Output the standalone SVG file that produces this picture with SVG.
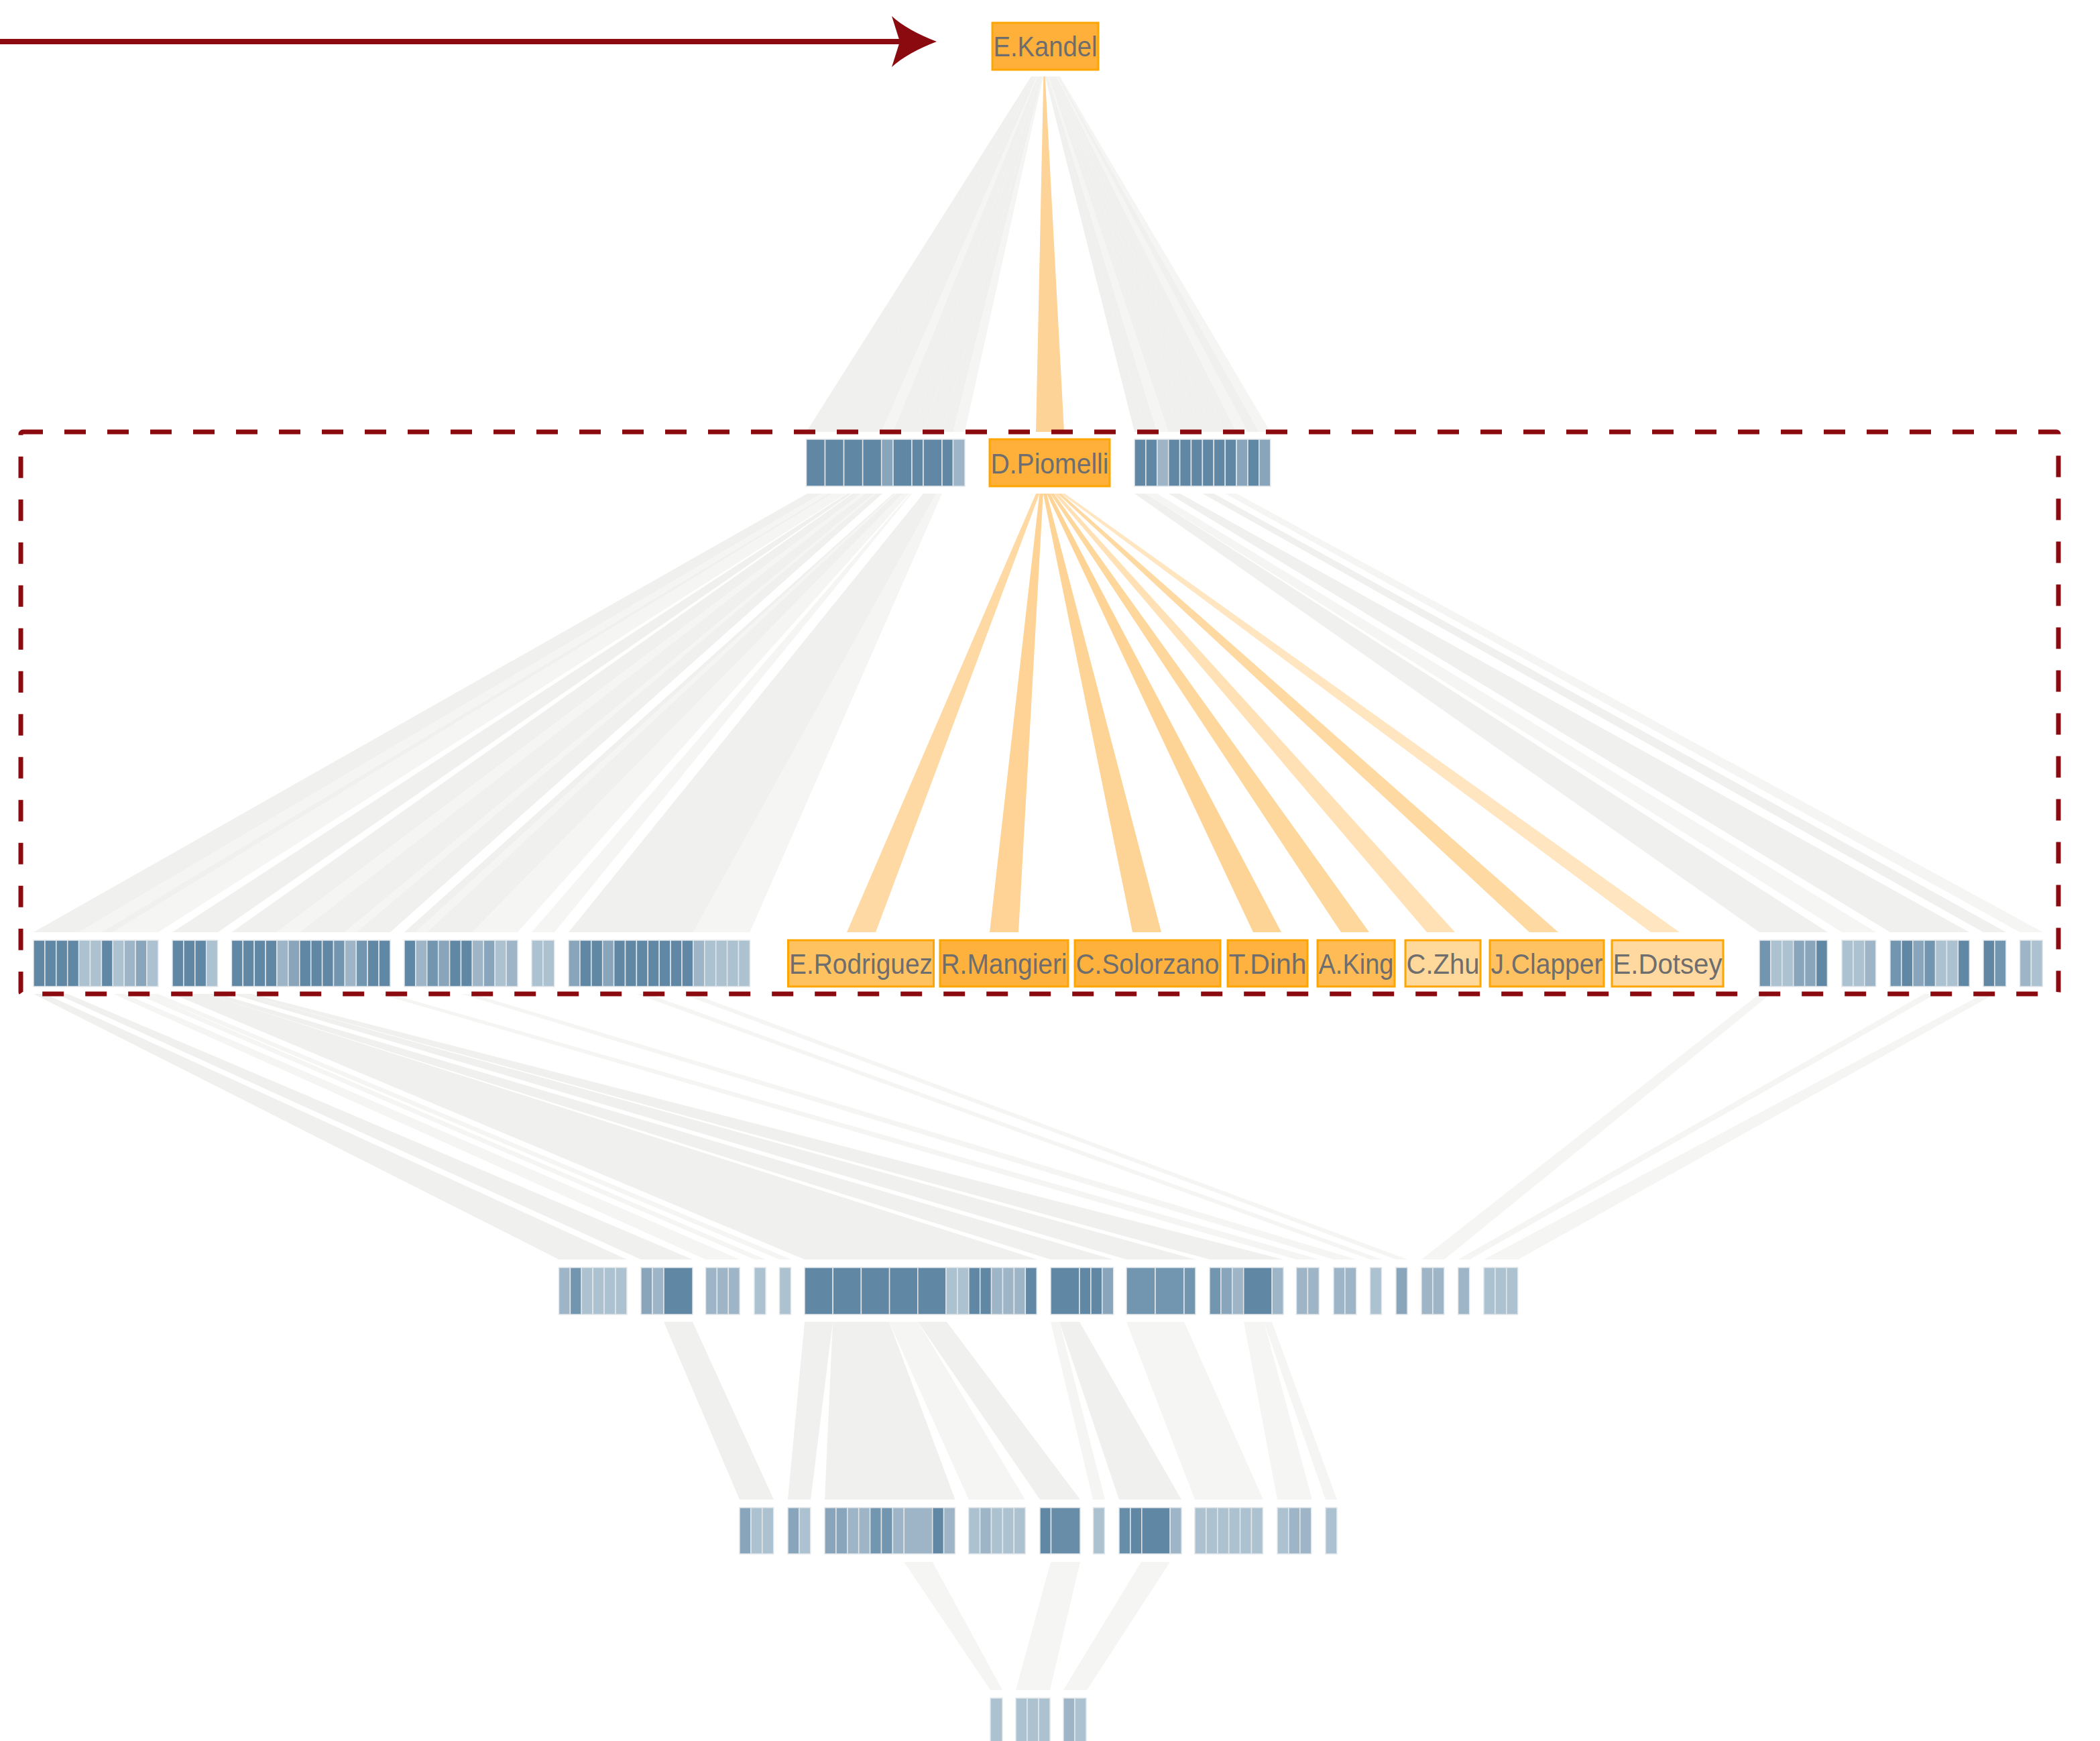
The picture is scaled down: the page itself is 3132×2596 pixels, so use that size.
<svg xmlns="http://www.w3.org/2000/svg" width="3132" height="2596" viewBox="0 0 3132 2596">
<style>
.lk{fill:#f0f0ee}
.lk2{fill:#f5f5f4}
.c{stroke:#e3e7ea;stroke-width:1.5}
.d{fill:#6088a4}.d2{fill:#688da8}.m1{fill:#7396b0}.m2{fill:#88a5bb}.l1{fill:#9db5c7}.l2{fill:#adc2d1}
.box{stroke:#ffa500;stroke-width:3}
.t{font-family:"Liberation Sans",Arial,sans-serif;font-size:42px;fill:#6e6e6e;text-anchor:middle}
</style>
<rect width="3132" height="2596" fill="#ffffff"/>
<g id="connectors">
<polygon class="lk" points="1538,114 1540.1,114 1230.5,644 1202.5,644"/>
<polygon class="lk" points="1540.1,114 1542.3,114 1258.6,644 1230.5,644"/>
<polygon class="lk" points="1542.3,114 1544.4,114 1286.7,644 1258.6,644"/>
<polygon class="lk" points="1544.4,114 1546.5,114 1314.7,644 1286.7,644"/>
<polygon class="lk2" points="1546.5,114 1547.8,114 1332,644 1314.7,644"/>
<polygon class="lk" points="1547.8,114 1550,114 1360,644 1332,644"/>
<polygon class="lk" points="1550,114 1551.3,114 1377,644 1360,644"/>
<polygon class="lk" points="1551.3,114 1553.4,114 1405,644 1377,644"/>
<polygon class="lk" points="1553.4,114 1554.7,114 1421.5,644 1405,644"/>
<polygon class="lk2" points="1554.7,114 1556.2,114 1439,644 1421.5,644"/>
<polygon class="lk" points="1558.8,114 1560.8,114 1708.9,644 1692,644"/>
<polygon class="lk" points="1560.8,114 1562.7,114 1725.8,644 1708.9,644"/>
<polygon class="lk2" points="1562.7,114 1564.5,114 1742.7,644 1725.8,644"/>
<polygon class="lk" points="1564.5,114 1566.3,114 1759.6,644 1742.7,644"/>
<polygon class="lk" points="1566.3,114 1568.2,114 1776.5,644 1759.6,644"/>
<polygon class="lk" points="1568.2,114 1570,114 1793.4,644 1776.5,644"/>
<polygon class="lk" points="1570,114 1571.8,114 1810.3,644 1793.4,644"/>
<polygon class="lk" points="1571.8,114 1573.7,114 1827.2,644 1810.3,644"/>
<polygon class="lk" points="1573.7,114 1575.5,114 1844.1,644 1827.2,644"/>
<polygon class="lk2" points="1575.5,114 1577.3,114 1861,644 1844.1,644"/>
<polygon class="lk" points="1577.3,114 1579.2,114 1877.9,644 1861,644"/>
<polygon class="lk2" points="1579.2,114 1581,114 1894.8,644 1877.9,644"/>
<polygon fill="#fed397" points="1556.3,114 1558.7,114 1587,644 1545,644"/>
<polygon class="lk" points="1204,736 1225.1,736 117.6,1390 50,1390"/>
<polygon class="lk2" points="1225.1,736 1235.6,736 151.4,1390 117.6,1390"/>
<polygon class="lk" points="1235.6,736 1240.9,736 168.3,1390 151.4,1390"/>
<polygon class="lk2" points="1240.9,736 1262,736 236,1390 168.3,1390"/>
<polygon class="lk" points="1263.5,736 1270,736 325,1390 257,1390"/>
<polygon class="lk" points="1271.5,736 1284.2,736 413,1390 345.4,1390"/>
<polygon class="lk2" points="1284.2,736 1290.6,736 446.8,1390 413,1390"/>
<polygon class="lk" points="1290.6,736 1303.3,736 514.4,1390 446.8,1390"/>
<polygon class="lk2" points="1303.3,736 1306.5,736 531.3,1390 514.4,1390"/>
<polygon class="lk" points="1306.5,736 1316,736 582,1390 531.3,1390"/>
<polygon class="lk" points="1332,736 1334.4,736 619.9,1390 603,1390"/>
<polygon class="lk2" points="1334.4,736 1336.8,736 636.8,1390 619.9,1390"/>
<polygon class="lk" points="1336.8,736 1346.4,736 704.4,1390 636.8,1390"/>
<polygon class="lk2" points="1346.4,736 1356,736 772,1390 704.4,1390"/>
<polygon class="lk2" points="1357.5,736 1360,736 827,1390 793,1390"/>
<polygon class="lk" points="1377,736 1396.2,736 1033.9,1390 848,1390"/>
<polygon class="lk2" points="1396.2,736 1405,736 1118.4,1390 1033.9,1390"/>
<polygon class="lk" points="1692,736 1709,736 2726,1390 2624,1390"/>
<polygon class="lk2" points="1709,736 1726,736 2798,1390 2747,1390"/>
<polygon class="lk" points="1743,736 1760,736 2937,1390 2819,1390"/>
<polygon class="lk" points="1793.5,736 1810.4,736 2992,1390 2958,1390"/>
<polygon class="lk2" points="1827.4,736 1844.3,736 3047,1390 3012.5,1390"/>
<polygon fill="#ffd9a3" points="1545,736 1550.4,736 1306,1390 1263,1390"/>
<polygon fill="#fed395" points="1550.4,736 1555.8,736 1519,1390 1476,1390"/>
<polygon fill="#fed496" points="1555.8,736 1561.1,736 1732,1390 1689,1390"/>
<polygon fill="#fed496" points="1561.1,736 1566.5,736 1911,1390 1869,1390"/>
<polygon fill="#fed79d" points="1566.5,736 1571.9,736 2042,1390 2000,1390"/>
<polygon fill="#ffe1b5" points="1571.9,736 1577.3,736 2170,1390 2128,1390"/>
<polygon fill="#fed9a2" points="1577.3,736 1582.6,736 2324,1390 2281,1390"/>
<polygon fill="#ffe5c0" points="1582.6,736 1588,736 2505,1390 2462,1390"/>
<polygon class="lk" points="50,1482 67,1482 935,1878 833.5,1878"/>
<polygon class="lk" points="84,1482 101,1482 1033,1878 956,1878"/>
<polygon class="lk2" points="169,1482 186,1482 1103.5,1878 1052.5,1878"/>
<polygon class="lk2" points="203,1482 220,1482 1142,1878 1125,1878"/>
<polygon class="lk2" points="220,1482 236,1482 1180,1878 1162.5,1878"/>
<polygon class="lk" points="257,1482 308,1482 1547,1878 1200,1878"/>
<polygon class="lk" points="308,1482 325,1482 1660,1878 1567,1878"/>
<polygon class="lk" points="345,1482 360,1482 1783,1878 1680,1878"/>
<polygon class="lk" points="360,1482 375,1482 1914,1878 1804,1878"/>
<polygon class="lk2" points="565,1482 582,1482 1968,1878 1933.5,1878"/>
<polygon class="lk2" points="688,1482 705,1482 2023.5,1878 1989,1878"/>
<polygon class="lk2" points="949,1482 966,1482 2061,1878 2043.5,1878"/>
<polygon class="lk2" points="1017,1482 1034,1482 2099,1878 2082,1878"/>
<polygon class="lk2" points="2624,1482 2641,1482 2154,1878 2120,1878"/>
<polygon class="lk2" points="2870,1482 2887,1482 2192,1878 2174.6,1878"/>
<polygon class="lk2" points="2958,1482 2975,1482 2264,1878 2213,1878"/>
<polygon class="lk" points="990,1971 1033,1971 1154,2236 1103,2236"/>
<polygon class="lk" points="1200,1971 1242,1971 1209,2236 1175,2236"/>
<polygon class="lk" points="1242,1971 1326,1971 1424.5,2236 1230,2236"/>
<polygon class="lk2" points="1326,1971 1369,1971 1529,2236 1444.7,2236"/>
<polygon class="lk" points="1369,1971 1412,1971 1611,2236 1551,2236"/>
<polygon class="lk2" points="1567,1971 1580,1971 1648,2236 1630,2236"/>
<polygon class="lk" points="1580,1971 1610,1971 1762,2236 1669,2236"/>
<polygon class="lk2" points="1680,1971 1766,1971 1884,2236 1782,2236"/>
<polygon class="lk2" points="1855,1971 1885,1971 1957,2236 1905,2236"/>
<polygon class="lk2" points="1885,1971 1897,1971 1994,2236 1977,2236"/>
<polygon class="lk2" points="1348.3,2329 1390.7,2329 1495,2520 1477,2520"/>
<polygon class="lk2" points="1567,2329 1611,2329 1566,2520 1515,2520"/>
<polygon class="lk2" points="1702,2329 1745,2329 1621,2520 1586,2520"/>
</g>
<g id="highlight-frame">
<rect x="31" y="644" width="3039" height="838" rx="3" fill="none" stroke="#8b0a10" stroke-width="7" stroke-dasharray="32 32" stroke-dashoffset="2"/>
</g>
<g id="pointer-arrow">
<line x1="0" y1="62" x2="1342" y2="62" stroke="#8b0a10" stroke-width="8"/>
<path d="M1397,62 C1370,52 1345,38 1330,24 L1342,62 L1330,100 C1345,86 1370,72 1397,62 Z" fill="#8b0a10"/>
</g>
<g id="n-kandel">
<rect class="box" x="1480" y="34" width="158" height="70" fill="#ffb03b"/>
<text class="t" x="1559" y="84" textLength="155" lengthAdjust="spacingAndGlyphs">E.Kandel</text>
</g>
<g id="n-piomelli">
<rect class="box" x="1476" y="655" width="179" height="70" fill="#ffb03b"/>
<text class="t" x="1565.5" y="705.5" textLength="176" lengthAdjust="spacingAndGlyphs">D.Piomelli</text>
</g>
<g id="n-rodriguez">
<rect class="box" x="1175.5" y="1402" width="217" height="69" fill="#ffc261"/>
<text class="t" x="1284" y="1452" textLength="214" lengthAdjust="spacingAndGlyphs">E.Rodriguez</text>
</g>
<g id="n-mangieri">
<rect class="box" x="1402" y="1402" width="191" height="69" fill="#ffb13d"/>
<text class="t" x="1497.5" y="1452" textLength="188" lengthAdjust="spacingAndGlyphs">R.Mangieri</text>
</g>
<g id="n-solorzano">
<rect class="box" x="1603" y="1402" width="217" height="69" fill="#ffb13d"/>
<text class="t" x="1711.5" y="1452" textLength="214" lengthAdjust="spacingAndGlyphs">C.Solorzano</text>
</g>
<g id="n-dinh">
<rect class="box" x="1831" y="1402" width="119" height="69" fill="#ffb23f"/>
<text class="t" x="1890.5" y="1452" textLength="116" lengthAdjust="spacingAndGlyphs">T.Dinh</text>
</g>
<g id="n-king">
<rect class="box" x="1965" y="1402" width="115" height="69" fill="#ffbb55"/>
<text class="t" x="2022.5" y="1452" textLength="112" lengthAdjust="spacingAndGlyphs">A.King</text>
</g>
<g id="n-zhu">
<rect class="box" x="2096" y="1402" width="112" height="69" fill="#ffd89c"/>
<text class="t" x="2152" y="1452" textLength="109" lengthAdjust="spacingAndGlyphs">C.Zhu</text>
</g>
<g id="n-clapper">
<rect class="box" x="2222" y="1402" width="170" height="69" fill="#ffc263"/>
<text class="t" x="2307" y="1452" textLength="167" lengthAdjust="spacingAndGlyphs">J.Clapper</text>
</g>
<g id="n-dotsey">
<rect class="box" x="2404" y="1402" width="166" height="69" fill="#ffd9a0"/>
<text class="t" x="2487" y="1452" textLength="163" lengthAdjust="spacingAndGlyphs">E.Dotsey</text>
</g>
<g id="level1-cells" class="c">
<rect id="a1" class="d" x="1202.5" y="655" width="28" height="70"/>
<rect id="a2" class="d" x="1230.5" y="655" width="28" height="70"/>
<rect id="a3" class="d" x="1258.6" y="655" width="28" height="70"/>
<rect id="a4" class="d" x="1286.7" y="655" width="28" height="70"/>
<rect id="a5" class="m2" x="1314.7" y="655" width="17.3" height="70"/>
<rect id="a6" class="d" x="1332" y="655" width="28" height="70"/>
<rect id="a7" class="d" x="1360" y="655" width="17" height="70"/>
<rect id="a8" class="d" x="1377" y="655" width="28" height="70"/>
<rect id="a9" class="d" x="1405" y="655" width="16.5" height="70"/>
<rect id="a10" class="l1" x="1421.5" y="655" width="17.5" height="70"/>
<rect id="b1" class="d" x="1692" y="655" width="16.9" height="70"/>
<rect id="b2" class="d" x="1708.9" y="655" width="16.9" height="70"/>
<rect id="b3" class="l1" x="1725.8" y="655" width="16.9" height="70"/>
<rect id="b4" class="d" x="1742.7" y="655" width="16.9" height="70"/>
<rect id="b5" class="d" x="1759.6" y="655" width="16.9" height="70"/>
<rect id="b6" class="d" x="1776.5" y="655" width="16.9" height="70"/>
<rect id="b7" class="d" x="1793.4" y="655" width="16.9" height="70"/>
<rect id="b8" class="d" x="1810.3" y="655" width="16.9" height="70"/>
<rect id="b9" class="d" x="1827.2" y="655" width="16.9" height="70"/>
<rect id="b10" class="m2" x="1844.1" y="655" width="16.9" height="70"/>
<rect id="b11" class="d" x="1861" y="655" width="16.9" height="70"/>
<rect id="b12" class="m2" x="1877.9" y="655" width="16.9" height="70"/>
</g>
<g id="level2-cells" class="c">
<rect class="d" x="50" y="1402" width="16.9" height="69"/>
<rect class="d" x="66.9" y="1402" width="16.9" height="69"/>
<rect class="d" x="83.8" y="1402" width="16.9" height="69"/>
<rect class="d" x="100.7" y="1402" width="16.9" height="69"/>
<rect class="l2" x="117.6" y="1402" width="16.9" height="69"/>
<rect class="l2" x="134.5" y="1402" width="16.9" height="69"/>
<rect class="d" x="151.4" y="1402" width="16.9" height="69"/>
<rect class="l2" x="168.3" y="1402" width="16.9" height="69"/>
<rect class="l1" x="185.2" y="1402" width="16.9" height="69"/>
<rect class="m2" x="202.1" y="1402" width="16.9" height="69"/>
<rect class="l2" x="219" y="1402" width="16.9" height="69"/>
<rect class="d" x="257" y="1402" width="16.9" height="69"/>
<rect class="d" x="273.9" y="1402" width="16.9" height="69"/>
<rect class="d" x="290.8" y="1402" width="16.9" height="69"/>
<rect class="l2" x="307.7" y="1402" width="16.9" height="69"/>
<rect class="d" x="345.4" y="1402" width="16.9" height="69"/>
<rect class="d" x="362.3" y="1402" width="16.9" height="69"/>
<rect class="d" x="379.2" y="1402" width="16.9" height="69"/>
<rect class="d" x="396.1" y="1402" width="16.9" height="69"/>
<rect class="l1" x="413" y="1402" width="16.9" height="69"/>
<rect class="m2" x="429.9" y="1402" width="16.9" height="69"/>
<rect class="d" x="446.8" y="1402" width="16.9" height="69"/>
<rect class="d" x="463.7" y="1402" width="16.9" height="69"/>
<rect class="d" x="480.6" y="1402" width="16.9" height="69"/>
<rect class="m1" x="497.5" y="1402" width="16.9" height="69"/>
<rect class="l1" x="514.4" y="1402" width="16.9" height="69"/>
<rect class="m1" x="531.3" y="1402" width="16.9" height="69"/>
<rect class="d" x="548.2" y="1402" width="16.9" height="69"/>
<rect class="d" x="565.1" y="1402" width="16.9" height="69"/>
<rect class="d" x="603" y="1402" width="16.9" height="69"/>
<rect class="l1" x="619.9" y="1402" width="16.9" height="69"/>
<rect class="m1" x="636.8" y="1402" width="16.9" height="69"/>
<rect class="m2" x="653.7" y="1402" width="16.9" height="69"/>
<rect class="d" x="670.6" y="1402" width="16.9" height="69"/>
<rect class="d" x="687.5" y="1402" width="16.9" height="69"/>
<rect class="l1" x="704.4" y="1402" width="16.9" height="69"/>
<rect class="m2" x="721.3" y="1402" width="16.9" height="69"/>
<rect class="l2" x="738.2" y="1402" width="16.9" height="69"/>
<rect class="l1" x="755.1" y="1402" width="16.9" height="69"/>
<rect class="l2" x="793" y="1402" width="16.9" height="69"/>
<rect class="l2" x="809.9" y="1402" width="16.9" height="69"/>
<rect class="m2" x="848" y="1402" width="16.9" height="69"/>
<rect class="d" x="864.9" y="1402" width="16.9" height="69"/>
<rect class="d" x="881.8" y="1402" width="16.9" height="69"/>
<rect class="m2" x="898.7" y="1402" width="16.9" height="69"/>
<rect class="d" x="915.6" y="1402" width="16.9" height="69"/>
<rect class="d" x="932.5" y="1402" width="16.9" height="69"/>
<rect class="d" x="949.4" y="1402" width="16.9" height="69"/>
<rect class="d" x="966.3" y="1402" width="16.9" height="69"/>
<rect class="d" x="983.2" y="1402" width="16.9" height="69"/>
<rect class="d" x="1000.1" y="1402" width="16.9" height="69"/>
<rect class="d" x="1017" y="1402" width="16.9" height="69"/>
<rect class="l1" x="1033.9" y="1402" width="16.9" height="69"/>
<rect class="l2" x="1050.8" y="1402" width="16.9" height="69"/>
<rect class="l2" x="1067.7" y="1402" width="16.9" height="69"/>
<rect class="l2" x="1084.6" y="1402" width="16.9" height="69"/>
<rect class="l2" x="1101.5" y="1402" width="16.9" height="69"/>
<rect class="m1" x="2624" y="1402" width="16.9" height="69"/>
<rect class="l2" x="2640.9" y="1402" width="16.9" height="69"/>
<rect class="l2" x="2657.8" y="1402" width="16.9" height="69"/>
<rect class="m2" x="2674.7" y="1402" width="16.9" height="69"/>
<rect class="m2" x="2691.6" y="1402" width="16.9" height="69"/>
<rect class="d" x="2708.5" y="1402" width="16.9" height="69"/>
<rect class="l2" x="2747" y="1402" width="16.9" height="69"/>
<rect class="l2" x="2763.9" y="1402" width="16.9" height="69"/>
<rect class="l1" x="2780.8" y="1402" width="16.9" height="69"/>
<rect class="m1" x="2819" y="1402" width="16.9" height="69"/>
<rect class="d" x="2835.9" y="1402" width="16.9" height="69"/>
<rect class="m2" x="2852.8" y="1402" width="16.9" height="69"/>
<rect class="m1" x="2869.7" y="1402" width="16.9" height="69"/>
<rect class="l2" x="2886.6" y="1402" width="16.9" height="69"/>
<rect class="l2" x="2903.5" y="1402" width="16.9" height="69"/>
<rect class="d" x="2920.4" y="1402" width="16.9" height="69"/>
<rect class="d" x="2958" y="1402" width="16.9" height="69"/>
<rect class="m1" x="2974.9" y="1402" width="16.9" height="69"/>
<rect class="l1" x="3012.5" y="1402" width="16.9" height="69"/>
<rect class="l2" x="3029.4" y="1402" width="16.9" height="69"/>
</g>
<g id="level3-cells" class="c">
<rect class="l1" x="833.5" y="1890" width="16.9" height="70"/>
<rect class="m1" x="850.4" y="1890" width="16.9" height="70"/>
<rect class="l2" x="867.3" y="1890" width="16.9" height="70"/>
<rect class="l2" x="884.2" y="1890" width="16.9" height="70"/>
<rect class="l2" x="901.1" y="1890" width="16.9" height="70"/>
<rect class="l2" x="918" y="1890" width="16.9" height="70"/>
<rect class="m2" x="956" y="1890" width="17" height="70"/>
<rect class="l1" x="973" y="1890" width="17" height="70"/>
<rect class="d" x="990" y="1890" width="43" height="70"/>
<rect class="l1" x="1052.5" y="1890" width="16.9" height="70"/>
<rect class="l1" x="1069.4" y="1890" width="16.9" height="70"/>
<rect class="l1" x="1086.3" y="1890" width="16.9" height="70"/>
<rect class="l2" x="1125" y="1890" width="17" height="70"/>
<rect class="l2" x="1162.5" y="1890" width="17" height="70"/>
<rect class="d" x="1200" y="1890" width="42.2" height="70"/>
<rect class="d" x="1242.2" y="1890" width="42.2" height="70"/>
<rect class="d" x="1284.4" y="1890" width="42.2" height="70"/>
<rect class="d" x="1326.6" y="1890" width="42.2" height="70"/>
<rect class="d" x="1368.8" y="1890" width="42.2" height="70"/>
<rect class="l2" x="1411" y="1890" width="16.9" height="70"/>
<rect class="l2" x="1427.9" y="1890" width="16.9" height="70"/>
<rect class="d" x="1444.8" y="1890" width="16.9" height="70"/>
<rect class="d" x="1461.7" y="1890" width="16.9" height="70"/>
<rect class="l1" x="1478.6" y="1890" width="16.9" height="70"/>
<rect class="l1" x="1495.5" y="1890" width="16.9" height="70"/>
<rect class="l1" x="1512.4" y="1890" width="16.9" height="70"/>
<rect class="d" x="1529.3" y="1890" width="16.9" height="70"/>
<rect class="d" x="1567" y="1890" width="43" height="70"/>
<rect class="d" x="1610" y="1890" width="16.9" height="70"/>
<rect class="d" x="1626.9" y="1890" width="16.9" height="70"/>
<rect class="m2" x="1643.8" y="1890" width="16.9" height="70"/>
<rect class="m1" x="1680" y="1890" width="43" height="70"/>
<rect class="m1" x="1723" y="1890" width="43" height="70"/>
<rect class="m1" x="1766" y="1890" width="17" height="70"/>
<rect class="m1" x="1804" y="1890" width="16.9" height="70"/>
<rect class="m2" x="1820.9" y="1890" width="16.9" height="70"/>
<rect class="l1" x="1837.8" y="1890" width="16.9" height="70"/>
<rect class="d" x="1854.7" y="1890" width="42.5" height="70"/>
<rect class="l1" x="1897.2" y="1890" width="16.9" height="70"/>
<rect class="l1" x="1933.5" y="1890" width="16.9" height="70"/>
<rect class="l1" x="1950.4" y="1890" width="16.9" height="70"/>
<rect class="l1" x="1989" y="1890" width="16.9" height="70"/>
<rect class="l1" x="2005.9" y="1890" width="16.9" height="70"/>
<rect class="l2" x="2043.5" y="1890" width="17" height="70"/>
<rect class="m2" x="2082" y="1890" width="17" height="70"/>
<rect class="l1" x="2120" y="1890" width="16.9" height="70"/>
<rect class="l1" x="2136.9" y="1890" width="16.9" height="70"/>
<rect class="l1" x="2174.6" y="1890" width="17" height="70"/>
<rect class="l2" x="2213" y="1890" width="16.9" height="70"/>
<rect class="l2" x="2229.9" y="1890" width="16.9" height="70"/>
<rect class="l2" x="2246.8" y="1890" width="16.9" height="70"/>
</g>
<g id="level4-cells" class="c">
<rect class="m2" x="1103" y="2248" width="16.9" height="69"/>
<rect class="l2" x="1119.9" y="2248" width="16.9" height="69"/>
<rect class="l2" x="1136.8" y="2248" width="16.9" height="69"/>
<rect class="m2" x="1175" y="2248" width="16.9" height="69"/>
<rect class="l2" x="1191.9" y="2248" width="16.9" height="69"/>
<rect class="m2" x="1230" y="2248" width="16.9" height="69"/>
<rect class="m2" x="1246.9" y="2248" width="16.9" height="69"/>
<rect class="l1" x="1263.8" y="2248" width="16.9" height="69"/>
<rect class="l1" x="1280.7" y="2248" width="16.9" height="69"/>
<rect class="m1" x="1297.6" y="2248" width="16.9" height="69"/>
<rect class="m1" x="1314.5" y="2248" width="16.9" height="69"/>
<rect class="l1" x="1331.4" y="2248" width="16.9" height="69"/>
<rect class="l1" x="1348.3" y="2248" width="42.4" height="69"/>
<rect class="d" x="1390.7" y="2248" width="16.9" height="69"/>
<rect class="l1" x="1407.6" y="2248" width="16.9" height="69"/>
<rect class="l2" x="1444.7" y="2248" width="16.9" height="69"/>
<rect class="l1" x="1461.6" y="2248" width="16.9" height="69"/>
<rect class="l2" x="1478.5" y="2248" width="16.9" height="69"/>
<rect class="l2" x="1495.4" y="2248" width="16.9" height="69"/>
<rect class="l2" x="1512.3" y="2248" width="16.9" height="69"/>
<rect class="d" x="1551" y="2248" width="16.5" height="69"/>
<rect class="d2" x="1567.5" y="2248" width="43.5" height="69"/>
<rect class="l2" x="1630.5" y="2248" width="16.9" height="69"/>
<rect class="d2" x="1669" y="2248" width="16.9" height="69"/>
<rect class="d" x="1685.9" y="2248" width="16.9" height="69"/>
<rect class="d" x="1702.8" y="2248" width="42.4" height="69"/>
<rect class="l1" x="1745.2" y="2248" width="16.9" height="69"/>
<rect class="l2" x="1782" y="2248" width="16.9" height="69"/>
<rect class="l2" x="1798.9" y="2248" width="16.9" height="69"/>
<rect class="l2" x="1815.8" y="2248" width="16.9" height="69"/>
<rect class="l2" x="1832.7" y="2248" width="16.9" height="69"/>
<rect class="l2" x="1849.6" y="2248" width="16.9" height="69"/>
<rect class="l2" x="1866.5" y="2248" width="16.9" height="69"/>
<rect class="l2" x="1905" y="2248" width="16.9" height="69"/>
<rect class="l1" x="1921.9" y="2248" width="16.9" height="69"/>
<rect class="l1" x="1938.8" y="2248" width="16.9" height="69"/>
<rect class="l2" x="1977" y="2248" width="16.9" height="69"/>
</g>
<g id="level5-cells" class="c">
<rect class="l2" x="1477" y="2532" width="18" height="70"/>
<rect class="l2" x="1515" y="2532" width="17" height="70"/>
<rect class="l2" x="1532" y="2532" width="17" height="70"/>
<rect class="l2" x="1549" y="2532" width="17" height="70"/>
<rect class="l1" x="1586" y="2532" width="17" height="70"/>
<rect class="l2" x="1603" y="2532" width="17" height="70"/>
</g>
</svg>
